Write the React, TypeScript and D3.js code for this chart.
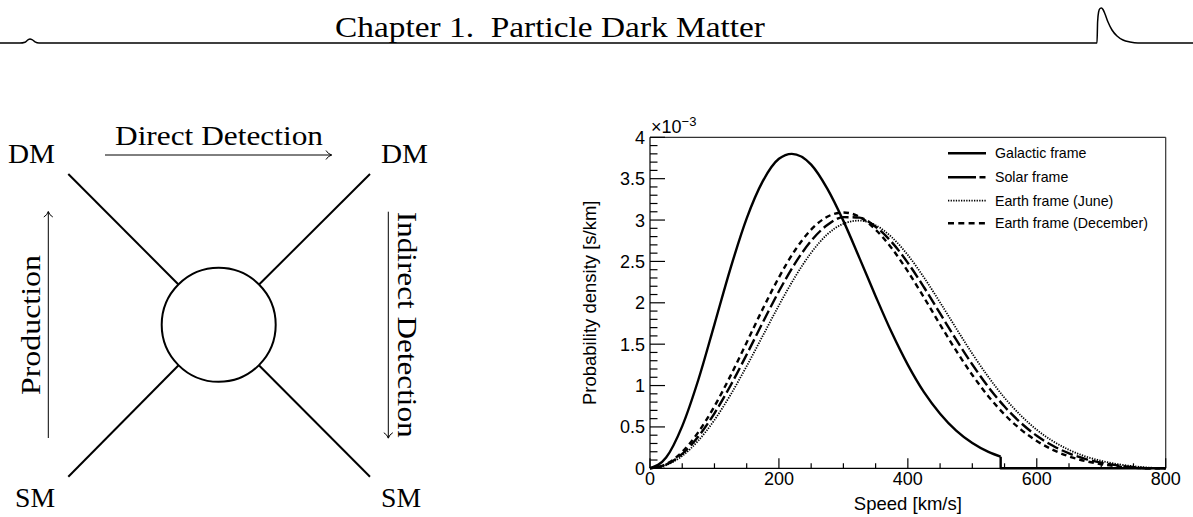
import React from "react";
import * as d3 from "d3";

// ---------- data ----------
const speedGrid = [0, 25, 50, 75, 100, 125, 150, 175, 200, 225, 250, 275, 300, 325, 350, 375, 400, 425, 450, 475, 500, 525, 550, 575, 600, 625, 650, 675, 700, 725, 750, 775, 800];

const galacticSpeed = [0, 25, 50, 75, 100, 125, 150, 175, 200, 220, 250, 275, 300, 325, 350, 375, 400, 425, 450, 475, 500, 525, 544];
const galacticDensity = [0, 0.13, 0.51, 1.07, 1.74, 2.42, 3.02, 3.47, 3.74, 3.80, 3.67, 3.38, 2.99, 2.54, 2.08, 1.64, 1.25, 0.92, 0.66, 0.455, 0.305, 0.198, 0.14];
const galacticTailSpeed = [544, 544, 800];
const galacticTailDensity = [0.14, 0, 0];

const solarDensity = [0, 0.044, 0.174, 0.384, 0.665, 1.001, 1.375, 1.763, 2.139, 2.476, 2.749, 2.94, 3.035, 3.029, 2.919, 2.733, 2.483, 2.188, 1.871, 1.554, 1.254, 0.982, 0.746, 0.551, 0.393, 0.272, 0.18, 0.114, 0.068, 0.035, 0.014, 0, 0];
const juneDensity = [0, 0.038, 0.15, 0.335, 0.584, 0.889, 1.235, 1.602, 1.97, 2.312, 2.605, 2.827, 2.955, 2.994, 2.938, 2.793, 2.577, 2.306, 2.004, 1.691, 1.385, 1.103, 0.852, 0.64, 0.465, 0.328, 0.223, 0.145, 0.09, 0.051, 0.025, 0.008, 0];
const decemberDensity = [0, 0.05, 0.199, 0.437, 0.75, 1.12, 1.521, 1.927, 2.307, 2.635, 2.885, 3.04, 3.091, 3.039, 2.884, 2.659, 2.379, 2.064, 1.737, 1.421, 1.128, 0.869, 0.65, 0.471, 0.33, 0.223, 0.144, 0.088, 0.049, 0.023, 0.006, 0, 0];

const yMajorTicks = [0, 0.5, 1, 1.5, 2, 2.5, 3, 3.5, 4];
const yTickLabels = ["0", "0.5", "1", "1.5", "2", "2.5", "3", "3.5", "4"];
const xMajorTicks = [0, 200, 400, 600, 800];
const xTickLabels = ["0", "200", "400", "600", "800"];

const legendLabels = ["Galactic frame", "Solar frame", "Earth frame (June)", "Earth frame (December)"];

// header decoration (x, y in page pixels)
const headerRuleX = [0, 20, 25, 28, 30, 32, 35, 39, 1097, 1097.6, 1098.6, 1100, 1101.5, 1103, 1105, 1108, 1112, 1117, 1123, 1130, 1138, 1193];
const headerRuleY = [43, 43, 42.2, 39.8, 39, 39.6, 41.8, 43, 43, 22, 12, 8.5, 8, 9.5, 14, 22, 30, 36, 40, 42, 43, 43];

const SANS = "'Liberation Sans', Arial, Helvetica, sans-serif";
const SERIF = "'Liberation Serif', 'Times New Roman', serif";

export default function App() {
  const x = d3.scaleLinear().domain([0, 800]).range([650, 1165.7]);
  const y = d3.scaleLinear().domain([0, 4]).range([468.3, 137.3]);

  const smooth = d3
    .line<[number, number]>()
    .x((d) => x(d[0]))
    .y((d) => y(d[1]))
    .curve(d3.curveMonotoneX);
  const straight = d3
    .line<[number, number]>()
    .x((d) => x(d[0]))
    .y((d) => y(d[1]));

  const zip = (a: number[], b: number[]) => a.map((v, i) => [v, b[i]] as [number, number]);

  const galPath = smooth(zip(galacticSpeed, galacticDensity)) || "";
  const galTail = straight(zip(galacticTailSpeed, galacticTailDensity)) || "";
  const solarPath = smooth(zip(speedGrid, solarDensity)) || "";
  const junePath = smooth(zip(speedGrid, juneDensity)) || "";
  const decPath = smooth(zip(speedGrid, decemberDensity)) || "";

  const yMinor = d3.range(0, 41).map((i) => i / 10).filter((v) => Math.abs(v * 2 - Math.round(v * 2)) > 1e-6);
  const xMinor = d3.range(0, 801, 50).filter((v) => v % 200 !== 0);

  const hdr = d3
    .line<[number, number]>()
    .x((d) => d[0])
    .y((d) => d[1])
    .curve(d3.curveMonotoneX)(zip(headerRuleX, headerRuleY)) || "";

  const x0 = x.range()[0];
  const x1 = x.range()[1];
  const yb = y.range()[0];
  const yt = y.range()[1];

  const legendRows = [153.3, 177.3, 200.7, 223.3];
  const legendStyles = [
    { dash: "none", w: 2.4 },
    { dash: "28 3.5 6 100", w: 2.4 },
    { dash: "1.3 1.3", w: 1.8 },
    { dash: "6 4.3", w: 2.4 },
  ];

  // diagram geometry
  const cx = 218.7, cy = 324.8, r = 57;
  const legs = [
    [68.3, 174],
    [370, 174],
    [68.3, 476.7],
    [370, 476.7],
  ];

  return (
    <svg
      width={1193}
      height={517}
      viewBox="0 0 1193 517"
      style={{ position: "absolute", left: 0, top: 0, background: "#fff" }}
    >
      <rect x={0} y={0} width={1193} height={517} fill="#fff" />
      {/* header */}
      <text x={335} y={37} fontFamily={SERIF} fontSize={29} textLength={430} lengthAdjust="spacingAndGlyphs" fill="#000">
        {"Chapter 1.\u00A0 Particle Dark Matter"}
      </text>
      <path d={hdr} fill="none" stroke="#000" strokeWidth={1.5} />

      {/* diagram */}
      <g fill="none" stroke="#000">
        <circle cx={cx} cy={cy} r={r} strokeWidth={2} />
        {legs.map(([lx, ly], i) => {
          const ang = Math.atan2(ly - cy, lx - cx);
          return (
            <line
              key={i}
              x1={cx + r * Math.cos(ang)}
              y1={cy + r * Math.sin(ang)}
              x2={lx}
              y2={ly}
              strokeWidth={2}
            />
          );
        })}
        {/* arrows */}
        <line x1={105} y1={155} x2={331.5} y2={155} strokeWidth={1} />
        <path d="M326,150.5 Q328,154 331.7,155 Q328,156 326,159.5" strokeWidth={1} />
        <line x1={48.3} y1={438} x2={48.3} y2={211.7} strokeWidth={1} />
        <path d="M43.8,217 Q47.3,215 48.3,211.5 Q49.3,215 52.8,217" strokeWidth={1} />
        <line x1={388.3} y1={211.7} x2={388.3} y2={438} strokeWidth={1} />
        <path d="M383.8,432.7 Q387.3,434.7 388.3,438.2 Q389.3,434.7 392.8,432.7" strokeWidth={1} />
      </g>
      <g fontFamily={SERIF} fontSize={28} fill="#000">
        <text x={8} y={162.7} textLength={47} lengthAdjust="spacingAndGlyphs">DM</text>
        <text x={381} y={162.7} textLength={47} lengthAdjust="spacingAndGlyphs">DM</text>
        <text x={15} y={506.7} textLength={40} lengthAdjust="spacingAndGlyphs">SM</text>
        <text x={381} y={506.7} textLength={40} lengthAdjust="spacingAndGlyphs">SM</text>
        <text x={115} y={145} textLength={208} lengthAdjust="spacingAndGlyphs">Direct Detection</text>
        <text transform="translate(40,395) rotate(-90)" textLength={140} lengthAdjust="spacingAndGlyphs">Production</text>
        <text transform="translate(398,211.7) rotate(90)" textLength={226} lengthAdjust="spacingAndGlyphs">Indirect Detection</text>
      </g>

      {/* plot frame */}
      <line x1={x0} y1={yt} x2={x1} y2={yt} stroke="#333" strokeWidth={1.2} />
      <line x1={x1} y1={yt} x2={x1} y2={yb} stroke="#333" strokeWidth={1.2} />

      {/* curves */}
      <g fill="none" stroke="#000" strokeLinejoin="round">
        <path d={galPath} strokeWidth={2.4} />
        <path d={galTail} strokeWidth={2.4} />
        <path d={solarPath} strokeWidth={2.4} strokeDasharray="12 4" />
        <path d={junePath} strokeWidth={1.8} strokeDasharray="1.3 1.3" />
        <path d={decPath} strokeWidth={2.4} strokeDasharray="5.5 4" />
      </g>

      {/* axes */}
      <g stroke="#000" strokeWidth={1.2}>
        <line x1={x0} y1={yt} x2={x0} y2={yb} />
        <line x1={x0} y1={yb} x2={x1} y2={yb} />
        {yMajorTicks.map((v) => (
          <line key={"ym" + v} x1={x0} x2={x0 + 15} y1={y(v)} y2={y(v)} />
        ))}
        {yMinor.map((v) => (
          <line key={"yn" + v} x1={x0} x2={x0 + 7.5} y1={y(v)} y2={y(v)} />
        ))}
        {xMajorTicks.map((v) => (
          <line key={"xm" + v} x1={x(v)} x2={x(v)} y1={yb} y2={yb - 10} />
        ))}
        {xMinor.map((v) => (
          <line key={"xn" + v} x1={x(v)} x2={x(v)} y1={yb} y2={yb - 5} />
        ))}
      </g>
      <g fontFamily={SANS} fontSize={18} fill="#000">
        {yMajorTicks.map((v, i) => (
          <text key={"yl" + v} x={645} y={y(v)} dy="0.36em" textAnchor="end">
            {yTickLabels[i]}
          </text>
        ))}
        {xMajorTicks.map((v, i) => (
          <text key={"xl" + v} x={x(v)} y={485} textAnchor="middle">
            {xTickLabels[i]}
          </text>
        ))}
        <text x={651} y={133}>
          ×10
          <tspan fontSize={13} dy={-7}>−3</tspan>
        </text>
        <text x={(x0 + x1) / 2} y={510} textAnchor="middle" fontSize={18.5}>
          Speed [km/s]
        </text>
        <text transform={`translate(596,${(yt + yb) / 2}) rotate(-90)`} textAnchor="middle" fontSize={18.5}>
          Probability density [s/km]
        </text>
      </g>

      {/* legend */}
      <g>
        {legendLabels.map((lab, i) => (
          <g key={lab}>
            <line
              x1={948}
              x2={986}
              y1={legendRows[i]}
              y2={legendRows[i]}
              stroke="#000"
              strokeWidth={legendStyles[i].w}
              strokeDasharray={legendStyles[i].dash}
            />
            <text x={995} y={legendRows[i]} dy="0.36em" fontFamily={SANS} fontSize={14.2} fill="#000">
              {lab}
            </text>
          </g>
        ))}
      </g>
    </svg>
  );
}
